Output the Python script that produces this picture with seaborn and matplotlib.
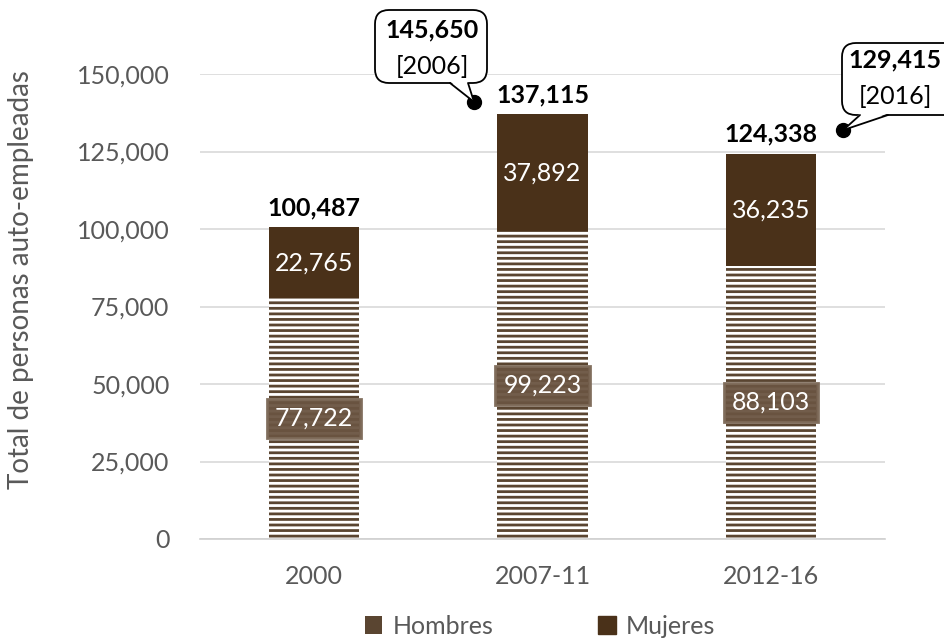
import matplotlib
matplotlib.use("Agg")
import matplotlib.pyplot as plt
import seaborn as sns
import pandas as pd
from matplotlib.patches import Patch, FancyBboxPatch, Polygon
from matplotlib.lines import Line2D
from matplotlib.transforms import IdentityTransform

categories = ["2000", "2007-11", "2012-16"]
hombres = [77722, 99223, 88103]
mujeres = [22765, 37892, 36235]
totales = [h + m for h, m in zip(hombres, mujeres)]
yticks = [0, 25000, 50000, 75000, 100000, 125000, 150000]
callout_values = ["145,650", "129,415"]
callout_years = ["[2006]", "[2016]"]

sns.set_theme(style="white")
plt.rcParams["font.family"] = ["Lato", "DejaVu Sans"]
plt.rcParams["hatch.linewidth"] = 2.0

brown_dark = "#4a3119"
stripe = "#5a4531"
gray_text = "#595959"
FS = 18
W, H = 945, 641

df = pd.DataFrame({"cat": categories, "hombres": hombres,
                   "mujeres": mujeres, "total": totales})

fig = plt.figure(figsize=(9.45, 6.41), dpi=100)
ax = fig.add_axes([200 / W, 1 - 539 / H, 685 / W, (539 - 74) / H])

bw = 91 / 230
sns.barplot(data=df, x="cat", y="total", color=brown_dark, saturation=1,
            width=bw, ax=ax, linewidth=0, zorder=2)
sns.barplot(data=df, x="cat", y="hombres", color="white", saturation=1,
            width=bw, ax=ax, linewidth=0, zorder=2)
for p in ax.patches[len(categories):2 * len(categories)]:
    p.set_hatch("---")
    p.set_edgecolor(stripe)
    p.set_linewidth(0)

ax.set_ylim(0, 150000)
ax.set_xlim(-0.5, 2.5)
ax.set_yticks(yticks)
ax.set_yticklabels([f"{v:,}" for v in yticks])
ax.yaxis.grid(True, color="#d9d9d9", linewidth=1.2, zorder=0)
ax.set_axisbelow(True)
for s in ["top", "right", "left"]:
    ax.spines[s].set_visible(False)
ax.spines["bottom"].set_color("#d0d0d0")
ax.spines["bottom"].set_linewidth(1.2)
ax.tick_params(axis="y", length=0, labelsize=FS, colors=gray_text, pad=22)
ax.tick_params(axis="x", length=0, labelsize=FS, colors=gray_text, pad=19)
ax.set_xlabel("")
ax.set_ylabel("Total de personas auto-empleadas", fontsize=20, color=gray_text)
ax.yaxis.set_label_coords((34 - 200) / 685, (539 - 280) / 465)

for i in range(len(categories)):
    h, m, t = hombres[i], mujeres[i], totales[i]
    ax.text(i, h / 2, f"{h:,}", ha="center", va="center", color="white",
            fontsize=FS, zorder=5,
            bbox=dict(boxstyle="square,pad=0.32", facecolor="#6a5441",
                      edgecolor="#7d6a58", alpha=0.95, linewidth=2))
    ax.text(i, h + m / 2, f"{m:,}", ha="center", va="center", color="white",
            fontsize=FS, zorder=5)
    ax.text(i, t + 2500, f"{t:,}", ha="center", va="bottom", color="black",
            fontsize=FS, fontweight="bold", zorder=5)

# callouts: dot positions in data; bubble geometry in figure pixels (top-left origin)
dots = [(0.70, 141000), (2.317, 131900)]
boxes = [(375, 10, 487, 83), (842, 43, 960, 115)]   # x0, y0, x1, y1
wedge_bases = [(450, 468), (860, 888)]
text_centers = [((432, 30), (432, 67)), ((895, 60), (895, 96))]
ident = IdentityTransform()


def px(x, y):
    return (x, H - y)


for (dx, dy), (x0, y0, x1, y1), (wb0, wb1), (tc1, tc2), val, yr in zip(
        dots, boxes, wedge_bases, text_centers, callout_values, callout_years):
    ax.plot(dx, dy, "o", color="black", markersize=10, clip_on=False, zorder=9)
    dpx = ax.transData.transform((dx, dy))
    box = FancyBboxPatch(px(x0, y1), x1 - x0, y1 - y0,
                         boxstyle="round,pad=0,rounding_size=14",
                         facecolor="white", edgecolor="black", linewidth=1.3,
                         transform=ident, zorder=7)
    fig.add_artist(box)
    bx0, by = px(wb0, y1)
    bx1, _ = px(wb1, y1)
    wedge = Polygon([(bx0, by + 1.5), (bx1, by + 1.5), tuple(dpx)],
                    closed=True, facecolor="white", edgecolor="none",
                    transform=ident, zorder=7.5)
    fig.add_artist(wedge)
    for bx in (bx0, bx1):
        fig.add_artist(Line2D([bx, dpx[0]], [by, dpx[1]], color="black",
                              lw=1.3, transform=ident, zorder=8))
    fig.text(tc1[0] / W, 1 - tc1[1] / H, val, ha="center", va="center",
             fontsize=FS, fontweight="bold", color="black", zorder=8)
    fig.text(tc2[0] / W, 1 - tc2[1] / H, yr, ha="center", va="center",
             fontsize=FS, color="black", zorder=8)

legend_handles = [
    Patch(facecolor="white", edgecolor=stripe, hatch="------", linewidth=0,
          label="Hombres"),
    Patch(facecolor=brown_dark, edgecolor=brown_dark, label="Mujeres"),
]
fig.legend(handles=legend_handles, loc="center",
           bbox_to_anchor=(540 / W, 1 - 626 / H),
           ncol=2, frameon=False, fontsize=FS, labelcolor=gray_text,
           handlelength=0.7, handleheight=0.7, handletextpad=0.4,
           columnspacing=4.2)

fig.savefig("out.png", dpi=100)
